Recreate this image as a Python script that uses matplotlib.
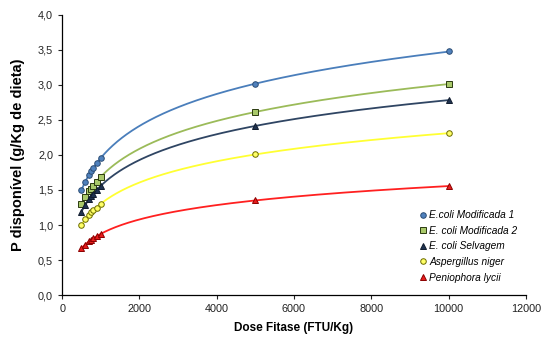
import numpy as np
import matplotlib
matplotlib.use("Agg")
import matplotlib.pyplot as plt
from matplotlib.ticker import FuncFormatter

# doses de fitase (FTU/Kg)
dose = [500, 600, 700, 750, 800, 900, 1000, 5000, 10000]

# P disponivel (g/Kg de dieta)
ecoli_mod1 = [1.50, 1.62, 1.72, 1.77, 1.81, 1.89, 1.96, 3.01, 3.48]
ecoli_mod2 = [1.30, 1.40, 1.48, 1.52, 1.56, 1.62, 1.69, 2.62, 3.01]
ecoli_selv = [1.19, 1.29, 1.37, 1.41, 1.45, 1.50, 1.55, 2.42, 2.78]
aspergillus = [1.00, 1.08, 1.15, 1.18, 1.21, 1.25, 1.30, 2.01, 2.31]
peniophora = [0.67, 0.72, 0.77, 0.79, 0.81, 0.84, 0.87, 1.36, 1.55]

labels = ["E.coli Modificada 1", "E. coli Modificada 2", "E. coli Selvagem",
          "Aspergillus niger", "Peniophora lycii"]

plt.rcParams['font.family'] = ['Liberation Sans', 'DejaVu Sans']

series = [
    (ecoli_mod1, '#4a7ebb', 'o', '#4f81bd', '#2c4d75'),
    (ecoli_mod2, '#9bbb59', 's', '#a9c96a', '#2b3a10'),
    (ecoli_selv, '#2f4563', '^', '#1f3250', '#111c2e'),
    (aspergillus, '#ffff33', 'o', '#ffff66', '#6b6b00'),
    (peniophora, '#ff2020', '^', '#e81c1c', '#8a0000'),
]

fig = plt.figure(figsize=(5.5, 3.38), dpi=100)
ax = fig.add_axes([0.113, 0.127, 0.843, 0.829])

x = np.array(dose, dtype=float)
xs = np.linspace(x.min(), x.max(), 400)
for (vals, lc, mk, fc, ec), lab in zip(series, labels):
    y = np.array(vals)
    # linha de tendencia logaritmica
    a, b = np.polyfit(np.log(x), y, 1)
    ax.plot(xs, a * np.log(xs) + b, color=lc, lw=1.3, zorder=2)
    ax.plot(x, y, linestyle='none', marker=mk, markersize=4.0,
            markerfacecolor=fc, markeredgecolor=ec, markeredgewidth=0.7,
            label=lab, zorder=3)

ax.set_xlim(0, 12000)
ax.set_ylim(0, 4.0)
ax.set_xticks(np.arange(0, 12001, 2000))
ax.set_yticks(np.arange(0, 4.01, 0.5))
ax.yaxis.set_major_formatter(FuncFormatter(lambda v, p: f"{v:.1f}".replace('.', ',')))
ax.tick_params(labelsize=7.8, colors='#222222', length=3, width=0.8, direction='out')
for side in ['top', 'right']:
    ax.spines[side].set_visible(False)
for side in ['left', 'bottom']:
    ax.spines[side].set_linewidth(0.9)

ax.set_xlabel("Dose Fitase (FTU/Kg)", fontsize=8.5, fontweight='bold', labelpad=6)
ax.set_ylabel("P disponível (g/Kg de dieta)", fontsize=10.5, fontweight='bold', labelpad=9)

leg = ax.legend(loc='lower left', bbox_to_anchor=(0.765, 0.03), frameon=False,
                fontsize=7.3, handlelength=0.5, handletextpad=0.3,
                labelspacing=0.55, borderaxespad=0)
for t in leg.get_texts():
    t.set_style('italic')

fig.savefig("out.png", dpi=100)
